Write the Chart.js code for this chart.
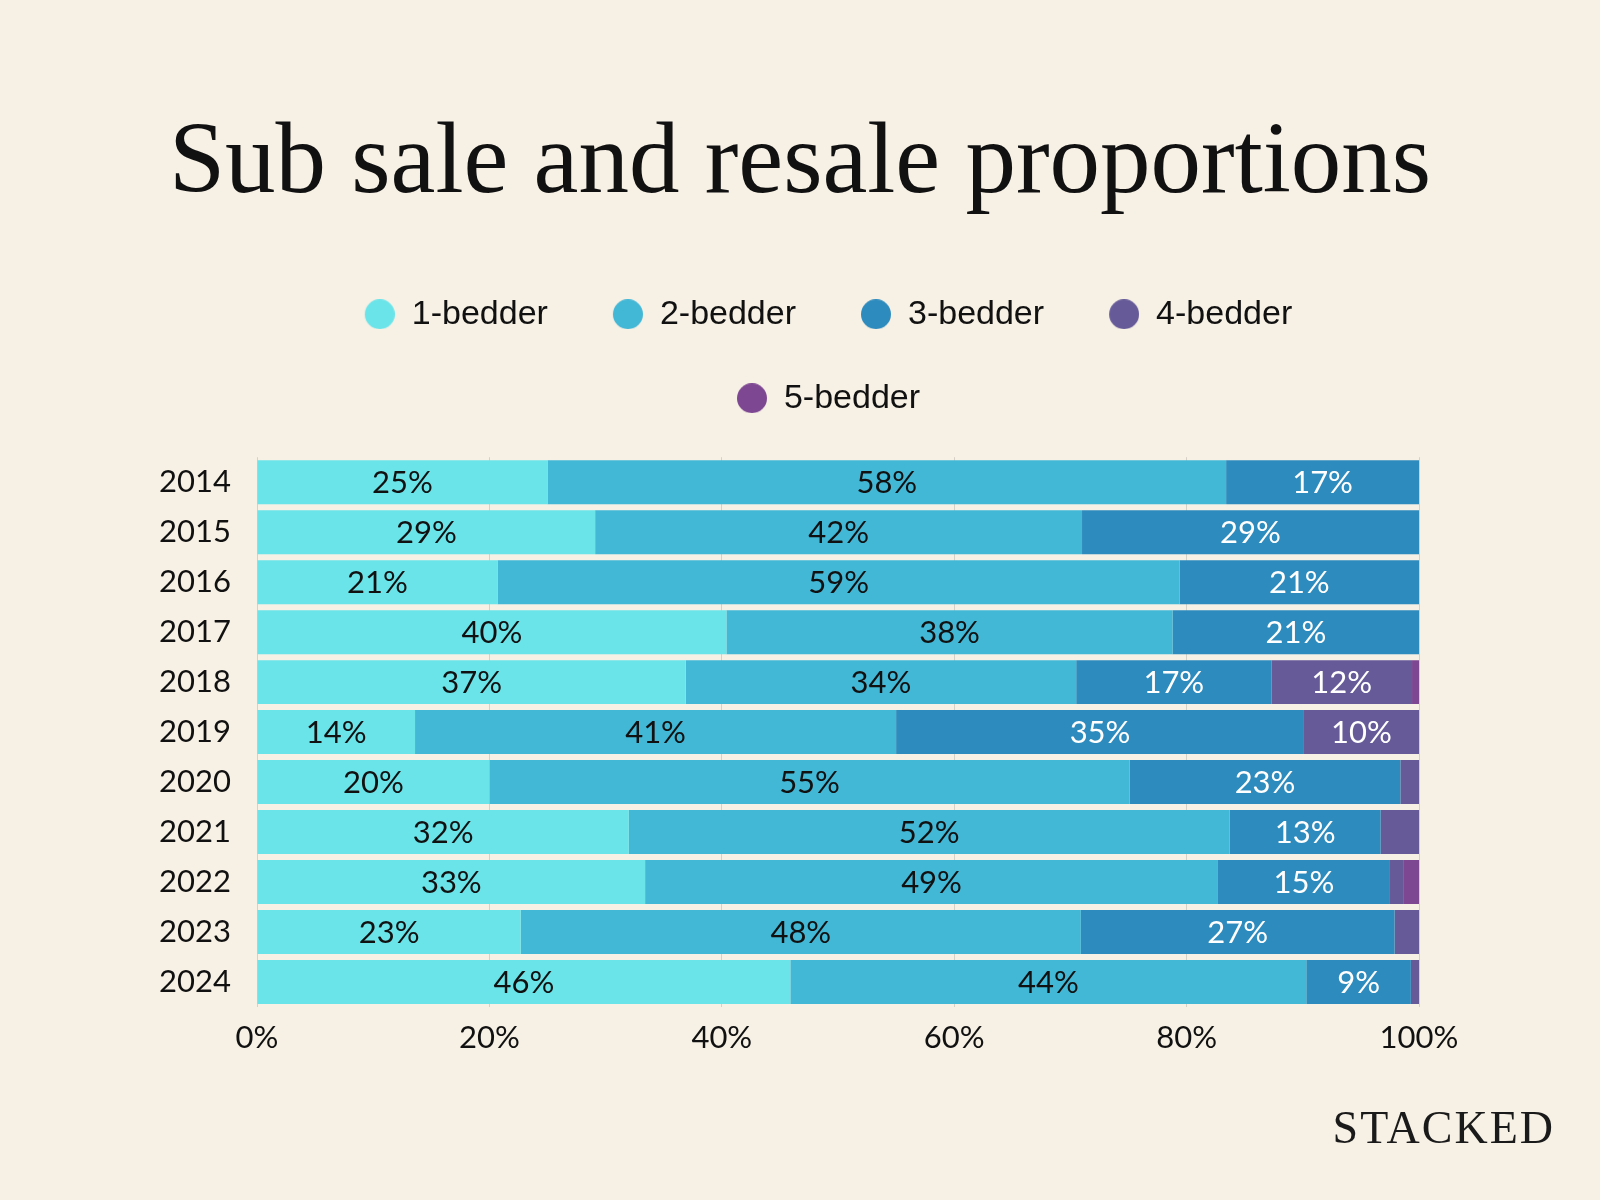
<!DOCTYPE html>
<html><head><meta charset="utf-8">
<style>html,body{margin:0;padding:0;background:#f6f0e5;} canvas{display:block;}</style>
<script src="https://cdn.jsdelivr.net/npm/chart.js@4.4.1/dist/chart.umd.min.js"></script>
</head><body>
<canvas id="c" width="1600" height="1200"></canvas>
<script>
const years = ['2014','2015','2016','2017','2018','2019','2020','2021','2022','2023','2024'];
const oneBedder   = [25.0, 29.1, 20.7, 40.4, 36.9, 13.6, 20.0, 32.0, 33.4, 22.7, 45.9];
const twoBedder   = [58.4, 41.9, 58.7, 38.4, 33.6, 41.4, 55.1, 51.7, 49.3, 48.2, 44.4];
const threeBedder = [16.6, 29.0, 20.6, 21.2, 16.8, 35.1, 23.3, 13.0, 14.8, 27.0, 9.0];
const fourBedder  = [0, 0, 0, 0, 12.1, 9.9, 1.6, 3.3, 1.2, 2.1, 0.7];
const fiveBedder  = [0, 0, 0, 0, 0.6, 0, 0, 0, 1.3, 0, 0];
const seriesNames = ['1-bedder','2-bedder','3-bedder','4-bedder','5-bedder'];
const seriesColors = ['#6ae4e9','#42b7d6','#2e8bbd','#665a98','#7d4791'];
const labelColors = ['#111111','#111111','#ffffff','#ffffff','#ffffff'];
const seriesValues = [oneBedder, twoBedder, threeBedder, fourBedder, fiveBedder];
const xTickStep = 20;
const titleText = 'Sub sale and resale proportions';
const brandText = 'STACKED';

function legendDot(color){
  const c = document.createElement('canvas');
  c.width = 45; c.height = 30;
  const g = c.getContext('2d');
  g.fillStyle = color;
  g.beginPath(); g.arc(30, 15, 15, 0, Math.PI * 2); g.fill();
  return c;
}
const dots = seriesColors.map(legendDot);

const bgPlugin = {
  id: 'bg',
  beforeDraw(chart){
    const ctx = chart.ctx; ctx.save();
    ctx.fillStyle = '#f6f0e5'; ctx.fillRect(0, 0, chart.width, chart.height);
    ctx.restore();
  }
};
const legendShift = {
  id: 'legendShift',
  afterLayout(chart){
    if (chart.legend) { chart.legend.left -= 17; chart.legend.right -= 17; }
  }
};
const barLabels = {
  id: 'barLabels',
  afterDatasetsDraw(chart){
    const ctx = chart.ctx; ctx.save();
    ctx.font = '31px Lato'; ctx.textAlign = 'center'; ctx.textBaseline = 'middle';
    chart.data.datasets.forEach((ds, i) => {
      const meta = chart.getDatasetMeta(i);
      meta.data.forEach((el, j) => {
        const v = ds.data[j];
        if (v < 5) return;
        ctx.fillStyle = labelColors[i];
        ctx.fillText(Math.round(v) + '%', (el.x + el.base) / 2, el.y + 1);
      });
    });
    ctx.restore();
  }
};
const brand = {
  id: 'brand',
  afterDraw(chart){
    const ctx = chart.ctx; ctx.save();
    ctx.font = '46px "Liberation Serif"';
    try { ctx.letterSpacing = '2px'; } catch(e) {}
    ctx.fillStyle = '#1a1a1a'; ctx.textAlign = 'right'; ctx.textBaseline = 'alphabetic';
    ctx.fillText(brandText, 1555, 1143);
    ctx.restore();
  }
};

new Chart(document.getElementById('c'), {
  type: 'bar',
  data: {
    labels: years,
    datasets: seriesNames.map((name, i) => ({
      label: name,
      data: seriesValues[i],
      backgroundColor: seriesColors[i],
      borderWidth: 0,
      barPercentage: 0.88,
      categoryPercentage: 1.0
    }))
  },
  options: {
    indexAxis: 'y',
    responsive: false,
    animation: false,
    devicePixelRatio: 1,
    layout: { padding: 0 },
    scales: {
      x: {
        stacked: true, min: 0, max: 100,
        ticks: { stepSize: xTickStep, callback: v => v + '%', color: '#111', font: { family: 'Lato', size: 31 }, padding: 12 },
        grid: { color: 'rgba(0,0,0,0.13)', lineWidth: 1, drawTicks: false },
        border: { display: false },
        afterFit: s => { s.height = 193; }
      },
      y: {
        stacked: true,
        ticks: { color: '#111', font: { family: 'Lato', size: 31 }, padding: 26 },
        grid: { display: false, drawTicks: false },
        border: { display: false },
        afterFit: s => { s.width = 257; }
      },
      y2: {
        type: 'linear', position: 'right', display: true,
        ticks: { display: false },
        grid: { display: false, drawTicks: false },
        border: { display: false },
        afterFit: s => { s.width = 181; }
      }
    },
    plugins: {
      title: {
        display: true, text: titleText, color: '#111',
        font: { family: 'Liberation Serif', size: 101, weight: 'normal', lineHeight: 1.2 },
        padding: { top: 105, bottom: 21 }
      },
      subtitle: {
        display: true, text: '', position: 'top', weight: 500,
        font: { size: 10, lineHeight: 1 },
        padding: { top: 0, bottom: 22 }
      },
      legend: {
        display: true, position: 'top', fullSize: false,
        labels: {
          usePointStyle: true, pointStyleWidth: 45, boxWidth: 45, boxHeight: 34,
          padding: 50, color: '#111',
          font: { family: 'Liberation Sans', size: 34 },
          generateLabels(chart){
            const items = Chart.defaults.plugins.legend.labels.generateLabels(chart);
            items.forEach(it => { it.pointStyle = dots[it.datasetIndex]; });
            return items;
          }
        }
      },
      tooltip: { enabled: false }
    }
  },
  plugins: [bgPlugin, legendShift, barLabels, brand]
});
</script>
</body></html>
